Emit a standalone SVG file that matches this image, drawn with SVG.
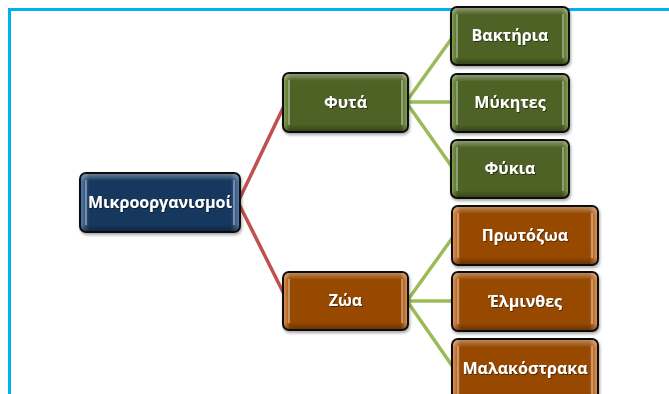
<svg xmlns="http://www.w3.org/2000/svg" width="669" height="394" viewBox="0 0 669 394">
<defs>
<linearGradient id="gGreen" x1="0" y1="0" x2="1" y2="0">
<stop offset="0" stop-color="#8aa857"/><stop offset="0.06" stop-color="#4f6228"/><stop offset="0.94" stop-color="#4f6228"/><stop offset="1" stop-color="#8aa857"/>
</linearGradient>
<linearGradient id="gBlue" x1="0" y1="0" x2="1" y2="0">
<stop offset="0" stop-color="#5a7fb0"/><stop offset="0.06" stop-color="#17375e"/><stop offset="0.94" stop-color="#17375e"/><stop offset="1" stop-color="#5a7fb0"/>
</linearGradient>
<linearGradient id="gBrown" x1="0" y1="0" x2="1" y2="0">
<stop offset="0" stop-color="#e59a5a"/><stop offset="0.06" stop-color="#974806"/><stop offset="0.94" stop-color="#974806"/><stop offset="1" stop-color="#e59a5a"/>
</linearGradient>
<linearGradient id="gShine" x1="0" y1="0" x2="0" y2="1">
<stop offset="0" stop-color="#ffffff" stop-opacity="0.35"/><stop offset="0.12" stop-color="#ffffff" stop-opacity="0"/><stop offset="0.88" stop-color="#000000" stop-opacity="0"/><stop offset="1" stop-color="#000000" stop-opacity="0.3"/>
</linearGradient>
<filter id="sh" x="-10%" y="-10%" width="120%" height="130%">
<feDropShadow dx="1" dy="2" stdDeviation="1.5" flood-color="#000" flood-opacity="0.35"/>
</filter>
<filter id="ts" x="-5%" y="-20%" width="110%" height="140%">
<feDropShadow dx="0.8" dy="0.8" stdDeviation="0.6" flood-color="#000" flood-opacity="0.6"/>
</filter>
</defs>
<style>
.box{stroke:#111;stroke-width:2;filter:url(#sh)}
.shine{fill:url(#gShine);stroke:none}
.hl{stroke:#ffffff;stroke-opacity:0.45;stroke-width:1.5;fill:none}
.t{font-family:"Open Sans","Noto Sans","Liberation Sans",sans-serif;font-weight:bold;font-size:16px;fill:#fff;text-anchor:middle;dominant-baseline:central;filter:url(#ts)}
.red{stroke:#c0504d;stroke-width:3.5;fill:none}
.grn{stroke:#9bbb59;stroke-width:3.5;fill:none}
.frame{stroke:#00b0f0;stroke-width:3;fill:none}
</style>
<rect width="669" height="394" fill="#fff"/>
<path class="frame" d="M9.5 394 V9.5 H669"/>
<g id="connectors">
<line class="red" x1="238" y1="202" x2="284" y2="106"/>
<line class="red" x1="238" y1="202" x2="284" y2="294"/>
<line class="grn" x1="406" y1="102" x2="452" y2="38"/>
<line class="grn" x1="406" y1="102" x2="452" y2="102"/>
<line class="grn" x1="406" y1="102" x2="452" y2="167"/>
<line class="grn" x1="407" y1="301" x2="453" y2="237"/>
<line class="grn" x1="407" y1="301" x2="453" y2="301"/>
<line class="grn" x1="407" y1="301" x2="453" y2="367"/>
</g>
<g id="n-root">
<rect class="box" x="80" y="173" width="160" height="59" rx="6" fill="url(#gBlue)"/>
<rect class="shine" x="81" y="174" width="158" height="57" rx="5"/>
<path class="hl" d="M86 180 V225 M234 180 V225"/>
<text class="t" x="160" y="202">Μικροοργανισμοί</text>
</g>
<g id="n-fyta">
<rect class="box" x="283" y="73" width="125" height="59" rx="6" fill="url(#gGreen)"/>
<rect class="shine" x="284" y="74" width="123" height="57" rx="5"/>
<path class="hl" d="M289 80 V125 M402 80 V125"/>
<text class="t" x="345.5" y="102">Φυτά</text>
</g>
<g id="n-zoa">
<rect class="box" x="283" y="272" width="125" height="58" rx="6" fill="url(#gBrown)"/>
<rect class="shine" x="284" y="273" width="123" height="56" rx="5"/>
<path class="hl" d="M289 279 V323 M402 279 V323"/>
<text class="t" x="345.5" y="300">Ζώα</text>
</g>
<g id="n-bakt">
<rect class="box" x="451" y="7" width="118" height="58" rx="6" fill="url(#gGreen)"/>
<rect class="shine" x="452" y="8" width="116" height="56" rx="5"/>
<path class="hl" d="M457 14 V58 M563 14 V58"/>
<text class="t" x="510" y="35">Βακτήρια</text>
</g>
<g id="n-myk">
<rect class="box" x="451" y="74" width="118" height="58" rx="6" fill="url(#gGreen)"/>
<rect class="shine" x="452" y="75" width="116" height="56" rx="5"/>
<path class="hl" d="M457 81 V125 M563 81 V125"/>
<text class="t" x="510" y="102">Μύκητες</text>
</g>
<g id="n-fyk">
<rect class="box" x="451" y="140" width="118" height="58" rx="6" fill="url(#gGreen)"/>
<rect class="shine" x="452" y="141" width="116" height="56" rx="5"/>
<path class="hl" d="M457 147 V191 M563 147 V191"/>
<text class="t" x="510" y="168">Φύκια</text>
</g>
<g id="n-prot">
<rect class="box" x="452" y="206" width="146" height="59" rx="6" fill="url(#gBrown)"/>
<rect class="shine" x="453" y="207" width="144" height="57" rx="5"/>
<path class="hl" d="M458 213 V258 M592 213 V258"/>
<text class="t" x="525" y="235">Πρωτόζωα</text>
</g>
<g id="n-elm">
<rect class="box" x="452" y="272" width="146" height="59" rx="6" fill="url(#gBrown)"/>
<rect class="shine" x="453" y="273" width="144" height="57" rx="5"/>
<path class="hl" d="M458 279 V324 M592 279 V324"/>
<text class="t" x="525" y="301">Έλμινθες</text>
</g>
<g id="n-mal">
<rect class="box" x="452" y="339" width="146" height="62" rx="6" fill="url(#gBrown)"/>
<rect class="shine" x="453" y="340" width="144" height="60" rx="5"/>
<path class="hl" d="M458 346 V394 M592 346 V394"/>
<text class="t" x="525" y="368">Μαλακόστρακα</text>
</g>
</svg>
